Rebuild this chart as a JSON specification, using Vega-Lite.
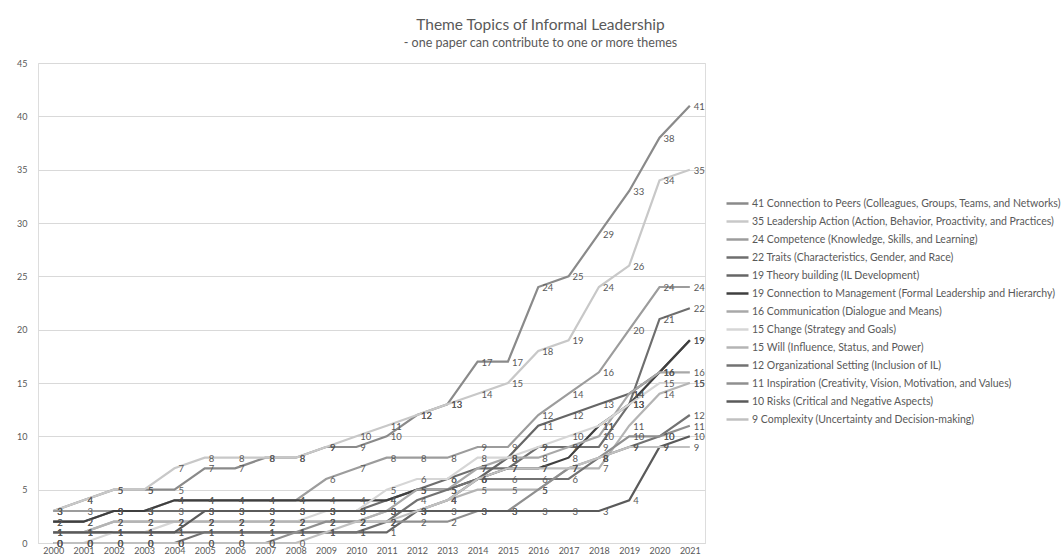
{
"$schema": "https://vega.github.io/schema/vega-lite/v6.json",
"width": 667, "height": 480,
"autosize": "none",
"padding": {"left": 38, "top": 63, "right": 357, "bottom": 17},
"background": "white",
"title": {"text": "Theme Topics of Informal Leadership", "subtitle": "- one paper can contribute to one or more themes", "anchor": "middle", "dx": 169, "offset": 10, "font": "Lato", "fontSize": 15.5, "fontWeight": "normal", "color": "#595959", "subtitleFont": "Lato", "subtitleFontSize": 12.5, "subtitleColor": "#595959", "subtitlePadding": 3},
"datasets": {"themes": [
{"k":"pe","theme":"41 Connection to Peers (Colleagues, Groups, Teams, and Networks)"},
{"k":"ac","theme":"35 Leadership Action (Action, Behavior, Proactivity, and Practices)"},
{"k":"co","theme":"24 Competence (Knowledge, Skills, and Learning)"},
{"k":"tr","theme":"22 Traits (Characteristics, Gender, and Race)"},
{"k":"th","theme":"19 Theory building (IL Development)"},
{"k":"cm","theme":"19 Connection to Management (Formal Leadership and Hierarchy)"},
{"k":"cu","theme":"16 Communication (Dialogue and Means)"},
{"k":"ch","theme":"15 Change (Strategy and Goals)"},
{"k":"wi","theme":"15 Will (Influence, Status, and Power)"},
{"k":"or","theme":"12 Organizational Setting (Inclusion of IL)"},
{"k":"in","theme":"11 Inspiration (Creativity, Vision, Motivation, and Values)"},
{"k":"ri","theme":"10 Risks (Critical and Negative Aspects)"},
{"k":"cx","theme":"9 Complexity (Uncertainty and Decision-making)"}
]},
"data": {"values": [
{"year":"2000","k":"pe","value":3},{"year":"2000","k":"ac","value":3},{"year":"2000","k":"co","value":3},{"year":"2000","k":"tr","value":2},{"year":"2000","k":"th","value":1},{"year":"2000","k":"cm","value":2},{"year":"2000","k":"cu","value":1},{"year":"2000","k":"ch","value":0},{"year":"2000","k":"wi","value":1},{"year":"2000","k":"or","value":0},{"year":"2000","k":"in","value":0},{"year":"2000","k":"ri","value":1},{"year":"2000","k":"cx","value":0},
{"year":"2001","k":"pe","value":4},{"year":"2001","k":"ac","value":4},{"year":"2001","k":"co","value":3},{"year":"2001","k":"tr","value":2},{"year":"2001","k":"th","value":1},{"year":"2001","k":"cm","value":2},{"year":"2001","k":"cu","value":1},{"year":"2001","k":"ch","value":0},{"year":"2001","k":"wi","value":1},{"year":"2001","k":"or","value":0},{"year":"2001","k":"in","value":0},{"year":"2001","k":"ri","value":1},{"year":"2001","k":"cx","value":0},
{"year":"2002","k":"pe","value":5},{"year":"2002","k":"ac","value":5},{"year":"2002","k":"co","value":3},{"year":"2002","k":"tr","value":3},{"year":"2002","k":"th","value":1},{"year":"2002","k":"cm","value":3},{"year":"2002","k":"cu","value":2},{"year":"2002","k":"ch","value":1},{"year":"2002","k":"wi","value":2},{"year":"2002","k":"or","value":0},{"year":"2002","k":"in","value":0},{"year":"2002","k":"ri","value":1},{"year":"2002","k":"cx","value":0},
{"year":"2003","k":"pe","value":5},{"year":"2003","k":"ac","value":5},{"year":"2003","k":"co","value":3},{"year":"2003","k":"tr","value":3},{"year":"2003","k":"th","value":1},{"year":"2003","k":"cm","value":3},{"year":"2003","k":"cu","value":2},{"year":"2003","k":"ch","value":1},{"year":"2003","k":"wi","value":2},{"year":"2003","k":"or","value":0},{"year":"2003","k":"in","value":0},{"year":"2003","k":"ri","value":1},{"year":"2003","k":"cx","value":0},
{"year":"2004","k":"pe","value":5},{"year":"2004","k":"ac","value":7},{"year":"2004","k":"co","value":4},{"year":"2004","k":"tr","value":3},{"year":"2004","k":"th","value":1},{"year":"2004","k":"cm","value":4},{"year":"2004","k":"cu","value":2},{"year":"2004","k":"ch","value":2},{"year":"2004","k":"wi","value":2},{"year":"2004","k":"or","value":0},{"year":"2004","k":"in","value":0},{"year":"2004","k":"ri","value":1},{"year":"2004","k":"cx","value":0},
{"year":"2005","k":"pe","value":7},{"year":"2005","k":"ac","value":8},{"year":"2005","k":"co","value":4},{"year":"2005","k":"tr","value":3},{"year":"2005","k":"th","value":1},{"year":"2005","k":"cm","value":4},{"year":"2005","k":"cu","value":2},{"year":"2005","k":"ch","value":2},{"year":"2005","k":"wi","value":2},{"year":"2005","k":"or","value":1},{"year":"2005","k":"in","value":0},{"year":"2005","k":"ri","value":3},{"year":"2005","k":"cx","value":0},
{"year":"2006","k":"pe","value":7},{"year":"2006","k":"ac","value":8},{"year":"2006","k":"co","value":4},{"year":"2006","k":"tr","value":3},{"year":"2006","k":"th","value":1},{"year":"2006","k":"cm","value":4},{"year":"2006","k":"cu","value":2},{"year":"2006","k":"ch","value":2},{"year":"2006","k":"wi","value":2},{"year":"2006","k":"or","value":1},{"year":"2006","k":"in","value":0},{"year":"2006","k":"ri","value":3},{"year":"2006","k":"cx","value":0},
{"year":"2007","k":"pe","value":8},{"year":"2007","k":"ac","value":8},{"year":"2007","k":"co","value":4},{"year":"2007","k":"tr","value":3},{"year":"2007","k":"th","value":1},{"year":"2007","k":"cm","value":4},{"year":"2007","k":"cu","value":2},{"year":"2007","k":"ch","value":2},{"year":"2007","k":"wi","value":2},{"year":"2007","k":"or","value":1},{"year":"2007","k":"in","value":0},{"year":"2007","k":"ri","value":3},{"year":"2007","k":"cx","value":0},
{"year":"2008","k":"pe","value":8},{"year":"2008","k":"ac","value":8},{"year":"2008","k":"co","value":4},{"year":"2008","k":"tr","value":3},{"year":"2008","k":"th","value":1},{"year":"2008","k":"cm","value":4},{"year":"2008","k":"cu","value":2},{"year":"2008","k":"ch","value":2},{"year":"2008","k":"wi","value":2},{"year":"2008","k":"or","value":1},{"year":"2008","k":"in","value":1},{"year":"2008","k":"ri","value":3},{"year":"2008","k":"cx","value":0},
{"year":"2009","k":"pe","value":9},{"year":"2009","k":"ac","value":9},{"year":"2009","k":"co","value":6},{"year":"2009","k":"tr","value":3},{"year":"2009","k":"th","value":1},{"year":"2009","k":"cm","value":4},{"year":"2009","k":"cu","value":2},{"year":"2009","k":"ch","value":3},{"year":"2009","k":"wi","value":2},{"year":"2009","k":"or","value":1},{"year":"2009","k":"in","value":2},{"year":"2009","k":"ri","value":3},{"year":"2009","k":"cx","value":1},
{"year":"2010","k":"pe","value":9},{"year":"2010","k":"ac","value":10},{"year":"2010","k":"co","value":7},{"year":"2010","k":"tr","value":3},{"year":"2010","k":"th","value":1},{"year":"2010","k":"cm","value":4},{"year":"2010","k":"cu","value":2},{"year":"2010","k":"ch","value":3},{"year":"2010","k":"wi","value":2},{"year":"2010","k":"or","value":1},{"year":"2010","k":"in","value":2},{"year":"2010","k":"ri","value":3},{"year":"2010","k":"cx","value":2},
{"year":"2011","k":"pe","value":10},{"year":"2011","k":"ac","value":11},{"year":"2011","k":"co","value":8},{"year":"2011","k":"tr","value":4},{"year":"2011","k":"th","value":1},{"year":"2011","k":"cm","value":4},{"year":"2011","k":"cu","value":3},{"year":"2011","k":"ch","value":5},{"year":"2011","k":"wi","value":3},{"year":"2011","k":"or","value":2},{"year":"2011","k":"in","value":2},{"year":"2011","k":"ri","value":3},{"year":"2011","k":"cx","value":2},
{"year":"2012","k":"pe","value":12},{"year":"2012","k":"ac","value":12},{"year":"2012","k":"co","value":8},{"year":"2012","k":"tr","value":5},{"year":"2012","k":"th","value":3},{"year":"2012","k":"cm","value":5},{"year":"2012","k":"cu","value":5},{"year":"2012","k":"ch","value":6},{"year":"2012","k":"wi","value":3},{"year":"2012","k":"or","value":4},{"year":"2012","k":"in","value":2},{"year":"2012","k":"ri","value":3},{"year":"2012","k":"cx","value":3},
{"year":"2013","k":"pe","value":13},{"year":"2013","k":"ac","value":13},{"year":"2013","k":"co","value":8},{"year":"2013","k":"tr","value":6},{"year":"2013","k":"th","value":4},{"year":"2013","k":"cm","value":5},{"year":"2013","k":"cu","value":5},{"year":"2013","k":"ch","value":6},{"year":"2013","k":"wi","value":4},{"year":"2013","k":"or","value":5},{"year":"2013","k":"in","value":2},{"year":"2013","k":"ri","value":3},{"year":"2013","k":"cx","value":4},
{"year":"2014","k":"pe","value":17},{"year":"2014","k":"ac","value":14},{"year":"2014","k":"co","value":9},{"year":"2014","k":"tr","value":7},{"year":"2014","k":"th","value":6},{"year":"2014","k":"cm","value":6},{"year":"2014","k":"cu","value":7},{"year":"2014","k":"ch","value":8},{"year":"2014","k":"wi","value":5},{"year":"2014","k":"or","value":6},{"year":"2014","k":"in","value":3},{"year":"2014","k":"ri","value":3},{"year":"2014","k":"cx","value":6},
{"year":"2015","k":"pe","value":17},{"year":"2015","k":"ac","value":15},{"year":"2015","k":"co","value":9},{"year":"2015","k":"tr","value":7},{"year":"2015","k":"th","value":8},{"year":"2015","k":"cm","value":7},{"year":"2015","k":"cu","value":8},{"year":"2015","k":"ch","value":8},{"year":"2015","k":"wi","value":5},{"year":"2015","k":"or","value":6},{"year":"2015","k":"in","value":3},{"year":"2015","k":"ri","value":3},{"year":"2015","k":"cx","value":7},
{"year":"2016","k":"pe","value":24},{"year":"2016","k":"ac","value":18},{"year":"2016","k":"co","value":12},{"year":"2016","k":"tr","value":9},{"year":"2016","k":"th","value":11},{"year":"2016","k":"cm","value":7},{"year":"2016","k":"cu","value":8},{"year":"2016","k":"ch","value":9},{"year":"2016","k":"wi","value":5},{"year":"2016","k":"or","value":6},{"year":"2016","k":"in","value":5},{"year":"2016","k":"ri","value":3},{"year":"2016","k":"cx","value":7},
{"year":"2017","k":"pe","value":25},{"year":"2017","k":"ac","value":19},{"year":"2017","k":"co","value":14},{"year":"2017","k":"tr","value":9},{"year":"2017","k":"th","value":12},{"year":"2017","k":"cm","value":8},{"year":"2017","k":"cu","value":9},{"year":"2017","k":"ch","value":10},{"year":"2017","k":"wi","value":7},{"year":"2017","k":"or","value":6},{"year":"2017","k":"in","value":7},{"year":"2017","k":"ri","value":3},{"year":"2017","k":"cx","value":7},
{"year":"2018","k":"pe","value":29},{"year":"2018","k":"ac","value":24},{"year":"2018","k":"co","value":16},{"year":"2018","k":"tr","value":9},{"year":"2018","k":"th","value":13},{"year":"2018","k":"cm","value":11},{"year":"2018","k":"cu","value":10},{"year":"2018","k":"ch","value":11},{"year":"2018","k":"wi","value":7},{"year":"2018","k":"or","value":8},{"year":"2018","k":"in","value":8},{"year":"2018","k":"ri","value":3},{"year":"2018","k":"cx","value":8},
{"year":"2019","k":"pe","value":33},{"year":"2019","k":"ac","value":26},{"year":"2019","k":"co","value":20},{"year":"2019","k":"tr","value":13},{"year":"2019","k":"th","value":14},{"year":"2019","k":"cm","value":13},{"year":"2019","k":"cu","value":14},{"year":"2019","k":"ch","value":13},{"year":"2019","k":"wi","value":11},{"year":"2019","k":"or","value":9},{"year":"2019","k":"in","value":10},{"year":"2019","k":"ri","value":4},{"year":"2019","k":"cx","value":9},
{"year":"2020","k":"pe","value":38},{"year":"2020","k":"ac","value":34},{"year":"2020","k":"co","value":24},{"year":"2020","k":"tr","value":21},{"year":"2020","k":"th","value":16},{"year":"2020","k":"cm","value":16},{"year":"2020","k":"cu","value":16},{"year":"2020","k":"ch","value":15},{"year":"2020","k":"wi","value":14},{"year":"2020","k":"or","value":10},{"year":"2020","k":"in","value":10},{"year":"2020","k":"ri","value":9},{"year":"2020","k":"cx","value":9},
{"year":"2021","k":"pe","value":41},{"year":"2021","k":"ac","value":35},{"year":"2021","k":"co","value":24},{"year":"2021","k":"tr","value":22},{"year":"2021","k":"th","value":19},{"year":"2021","k":"cm","value":19},{"year":"2021","k":"cu","value":16},{"year":"2021","k":"ch","value":15},{"year":"2021","k":"wi","value":15},{"year":"2021","k":"or","value":12},{"year":"2021","k":"in","value":11},{"year":"2021","k":"ri","value":10},{"year":"2021","k":"cx","value":9}
]},
"transform": [{"lookup": "k", "from": {"data": {"name": "themes"}, "key": "k", "fields": ["theme"]}}],
"encoding": {
  "x": {"field": "year", "type": "ordinal", "scale": {"type": "point", "padding": 0.5},
        "axis": {"title": null, "labelAngle": 0, "ticks": false, "domain": true, "domainColor": "#d9d9d9", "labelFont": "Lato", "labelFontSize": 9, "labelColor": "#595959", "labelPadding": 3, "grid": false}},
  "y": {"field": "value", "type": "quantitative", "scale": {"domain": [0, 45]},
        "axis": {"title": null, "values": [0,5,10,15,20,25,30,35,40,45], "domain": false, "ticks": false, "grid": true, "gridColor": "#d9d9d9", "labelFont": "Lato", "labelFontSize": 9, "labelColor": "#595959", "labelPadding": 11}},
  "color": {"field": "theme", "type": "nominal",
    "scale": {"domain": [
      "41 Connection to Peers (Colleagues, Groups, Teams, and Networks)",
      "35 Leadership Action (Action, Behavior, Proactivity, and Practices)",
      "24 Competence (Knowledge, Skills, and Learning)",
      "22 Traits (Characteristics, Gender, and Race)",
      "19 Theory building (IL Development)",
      "19 Connection to Management (Formal Leadership and Hierarchy)",
      "16 Communication (Dialogue and Means)",
      "15 Change (Strategy and Goals)",
      "15 Will (Influence, Status, and Power)",
      "12 Organizational Setting (Inclusion of IL)",
      "11 Inspiration (Creativity, Vision, Motivation, and Values)",
      "10 Risks (Critical and Negative Aspects)",
      "9 Complexity (Uncertainty and Decision-making)"],
      "range": ["#8a8a8a", "#c8c8c8", "#9c9c9c", "#6e6e6e", "#666666", "#3f3f3f", "#a8a8a8", "#d6d6d6", "#b4b4b4", "#727272", "#8f8f8f", "#5a5a5a", "#c0c0c0"]},
    "legend": {"orient": "none", "legendX": 687, "legendY": 128, "title": null, "labelFont": "Lato", "labelFontSize": 10.5, "labelColor": "#595959", "labelLimit": 0, "symbolType": "stroke", "symbolSize": 484, "symbolStrokeWidth": 2.5, "rowPadding": -3.9, "labelOffset": 2}}
},
"layer": [
  {"mark": {"type": "line", "strokeWidth": 2.2}},
  {"mark": {"type": "text", "align": "left", "baseline": "middle", "dx": 4, "dy": 1, "font": "Lato", "fontSize": 9.5},
   "encoding": {"text": {"field": "value", "type": "quantitative"}, "color": {"value": "#595959"}}}
]
}
